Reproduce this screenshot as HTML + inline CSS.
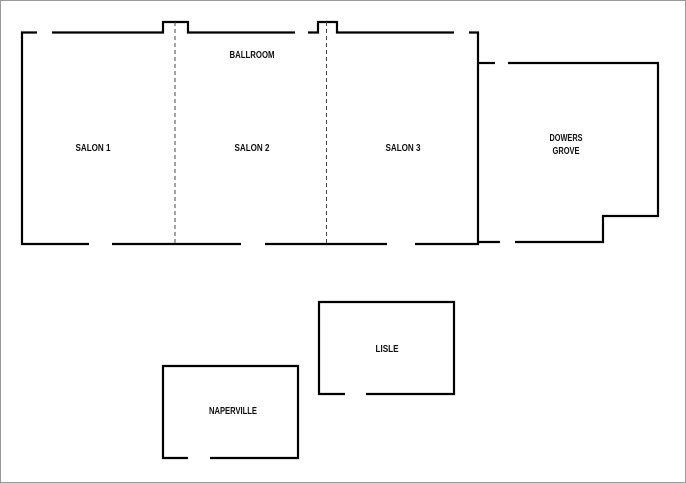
<!DOCTYPE html>
<html><head><style>html,body{margin:0;padding:0;background:#fff}svg{display:block}</style></head>
<body>
<svg width="686" height="483" viewBox="0 0 686 483" xmlns="http://www.w3.org/2000/svg">
<rect x="0.5" y="0.5" width="685" height="482" fill="#fff" stroke="#999" stroke-width="1"/>
<g fill="none" stroke="#000" stroke-width="2.2" stroke-linejoin="miter">
<polyline points="37,32.5 22,32.5 22,244 89,244"/>
<polyline points="52,32.5 163,32.5 163,22 188,22 188,32.5 295,32.5"/>
<polyline points="308,32.5 318,32.5 318,22 337,22 337,32.5 454,32.5"/>
<polyline points="469,32.5 478,32.5 478,244 415,244"/>
<line x1="112" y1="244" x2="241" y2="244"/>
<line x1="265" y1="244" x2="387" y2="244"/>
<polyline points="479,63 495,63"/>
<polyline points="508,63 658,63 658,216 603,216 603,242 515,242"/>
<line x1="479" y1="242" x2="500" y2="242"/>
<polyline points="345,394 319,394 319,302 454,302 454,394 366,394"/>
<polyline points="188,458 163,458 163,366 298,366 298,458 210,458"/>
</g>
<g stroke="#444" stroke-width="1" stroke-dasharray="4,3">
<line x1="175" y1="22" x2="175" y2="244"/>
<line x1="326.5" y1="22" x2="326.5" y2="244"/>
</g>
<g font-family="'Liberation Sans Narrow','Liberation Sans',sans-serif" font-weight="bold" font-size="10.5" fill="#111" text-anchor="middle">
<text x="252" y="58" textLength="45" lengthAdjust="spacingAndGlyphs">BALLROOM</text>
<text x="93" y="151" textLength="35" lengthAdjust="spacingAndGlyphs">SALON 1</text>
<text x="252" y="151" textLength="35" lengthAdjust="spacingAndGlyphs">SALON 2</text>
<text x="403" y="151" textLength="35" lengthAdjust="spacingAndGlyphs">SALON 3</text>
<text x="566" y="141" textLength="33" lengthAdjust="spacingAndGlyphs">DOWERS</text>
<text x="566" y="154" textLength="27" lengthAdjust="spacingAndGlyphs">GROVE</text>
<text x="387" y="352" textLength="23" lengthAdjust="spacingAndGlyphs">LISLE</text>
<text x="233" y="414" textLength="48" lengthAdjust="spacingAndGlyphs">NAPERVILLE</text>
</g>
</svg>
</body></html>
